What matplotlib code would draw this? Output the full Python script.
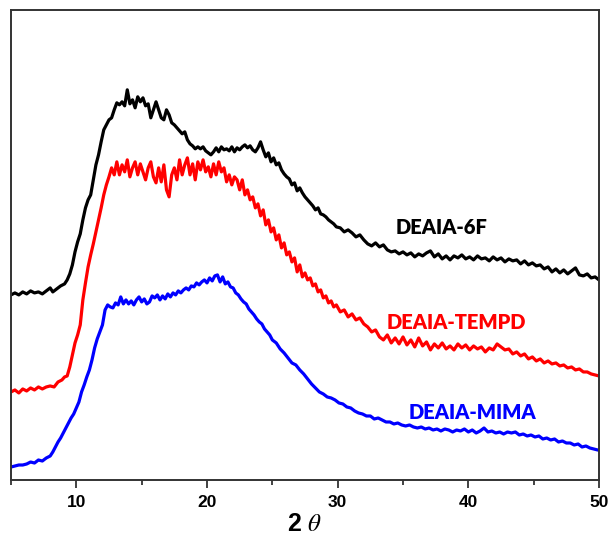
import matplotlib
matplotlib.use("Agg")
import matplotlib.pyplot as plt

# ---- data ----
x_6f = [5.0, 5.3, 5.6, 5.9, 6.2, 6.5, 6.8, 7.1, 7.4, 7.7, 8.0, 8.2, 8.5, 8.8, 9.1, 9.3, 9.5, 9.7, 9.9, 10.1,
        10.3, 10.5, 10.7, 10.9, 11.1, 11.3, 11.5, 11.7, 11.9, 12.1, 12.3, 12.5, 12.7, 12.9, 13.1, 13.3, 13.5,
        13.7, 13.9, 14.1, 14.3, 14.5, 14.7, 14.9, 15.1, 15.3, 15.5, 15.7, 15.9, 16.1, 16.3, 16.5, 16.7, 16.9,
        17.1, 17.3, 17.5, 17.7, 17.9, 18.1, 18.3, 18.5, 18.7, 18.9, 19.1, 19.3, 19.5, 19.7, 19.9, 20.1, 20.3,
        20.5, 20.7, 20.9, 21.1, 21.3, 21.5, 21.7, 21.9, 22.1, 22.3, 22.5, 22.7, 22.9, 23.1, 23.3, 23.5, 23.7,
        23.9, 24.1, 24.3, 24.5, 24.7, 24.9, 25.1, 25.3, 25.5, 25.7, 25.9, 26.1, 26.3, 26.5, 26.7, 26.9, 27.1,
        27.3, 27.5, 27.7, 27.9, 28.1, 28.3, 28.5, 28.7, 28.9, 29.1, 29.3, 29.5, 29.7, 29.9, 30.2, 30.5, 30.8,
        31.1, 31.4, 31.7, 32.0, 32.3, 32.6, 32.9, 33.2, 33.5, 33.8, 34.1, 34.4, 34.7, 35.0, 35.3, 35.6, 35.9,
        36.2, 36.5, 36.8, 37.1, 37.4, 37.7, 38.0, 38.3, 38.6, 38.9, 39.2, 39.5, 39.8, 40.1, 40.4, 40.7, 41.0,
        41.3, 41.6, 41.9, 42.2, 42.5, 42.8, 43.1, 43.4, 43.7, 44.0, 44.3, 44.6, 44.9, 45.2, 45.5, 45.8, 46.1,
        46.4, 46.7, 47.0, 47.3, 47.6, 47.9, 48.2, 48.5, 48.8, 49.1, 49.4, 49.7, 50.0]
y_6f = [185, 187, 185, 188, 186, 189, 187, 188, 186, 189, 192, 188, 191, 194, 196, 200, 206, 215, 228, 238,
        246, 260, 272, 280, 285, 300, 315, 325, 338, 350, 355, 360, 362, 370, 377, 375, 378,
        374, 390, 376, 380, 372, 383, 378, 382, 374, 376, 362, 370, 378, 370, 362, 360, 370,
        365, 357, 355, 352, 349, 346, 348, 340, 336, 334, 331, 333, 331, 333, 329, 327, 325,
        328, 332, 328, 333, 330, 331, 329, 333, 328, 332, 330, 333, 335, 332, 334, 330, 328,
        332, 338, 330, 323, 327, 318, 322, 315, 317, 310, 306, 303, 301, 295, 297, 289, 292,
        287, 283, 280, 277, 274, 270, 272, 266, 265, 263, 260, 258, 256, 253, 252, 248, 250,
        247, 243, 245, 240, 236, 234, 237, 233, 235, 230, 228, 229, 226, 228, 225, 227, 223,
        226, 224, 227, 229, 223, 226, 221, 224, 220, 224, 222, 225, 221, 223, 220, 224, 221,
        222, 219, 223, 220, 222, 218, 221, 219, 220, 216, 219, 215, 217, 214, 215, 211, 213,
        208, 211, 207, 210, 206, 209, 212, 205, 204, 206, 202, 203, 200]

x_tempd = [5.0, 5.3, 5.6, 5.9, 6.2, 6.5, 6.8, 7.1, 7.4, 7.7, 8.0, 8.3, 8.6, 8.9, 9.1, 9.3, 9.5, 9.7, 9.9, 10.1,
           10.3, 10.5, 10.7, 10.9, 11.1, 11.3, 11.5, 11.7, 11.9, 12.1, 12.3, 12.5, 12.7, 12.9, 13.1, 13.3,
           13.5, 13.7, 13.9, 14.1, 14.3, 14.5, 14.7, 14.9, 15.1, 15.3, 15.5, 15.7, 15.9, 16.1, 16.3, 16.5,
           16.7, 16.9, 17.1, 17.3, 17.5, 17.7, 17.9, 18.1, 18.3, 18.5, 18.7, 18.9, 19.1, 19.3, 19.5, 19.7,
           19.9, 20.1, 20.3, 20.5, 20.7, 20.9, 21.1, 21.3, 21.5, 21.7, 21.9, 22.1, 22.3, 22.5, 22.7, 22.9,
           23.1, 23.3, 23.5, 23.7, 23.9, 24.1, 24.3, 24.5, 24.7, 24.9, 25.1, 25.3, 25.5, 25.7, 25.9, 26.1,
           26.3, 26.5, 26.7, 26.9, 27.1, 27.3, 27.5, 27.7, 27.9, 28.1, 28.3, 28.5, 28.7, 28.9, 29.1, 29.3,
           29.5, 29.7, 29.9, 30.2, 30.5, 30.8, 31.1, 31.4, 31.7, 32.0, 32.3, 32.6, 32.9, 33.2, 33.5, 33.8,
           34.1, 34.4, 34.7, 35.0, 35.3, 35.6, 35.9, 36.2, 36.5, 36.8, 37.1, 37.4, 37.7, 38.0, 38.3, 38.6,
           38.9, 39.2, 39.5, 39.8, 40.1, 40.4, 40.7, 41.0, 41.3, 41.6, 41.9, 42.2, 42.5, 42.8, 43.1, 43.4,
           43.7, 44.0, 44.3, 44.6, 44.9, 45.2, 45.5, 45.8, 46.1, 46.4, 46.7, 47.0, 47.3, 47.6, 47.9, 48.2,
           48.5, 48.8, 49.1, 49.4, 49.7, 50.0]
y_tempd = [88, 90, 87, 91, 89, 92, 90, 93, 91, 93, 94, 93, 98, 100, 103, 104, 113, 125, 137, 145,
           155, 180, 197, 213, 225, 236, 248, 260, 272, 285, 295, 303, 312, 305, 318, 305,
           315, 308, 320, 303, 312, 318, 305, 316, 308, 300, 312, 318, 303, 297, 312, 298,
           315, 290, 283, 305, 312, 300, 320, 305, 315, 322, 305, 316, 300, 318, 310, 320,
           308, 313, 303, 316, 305, 318, 308, 312, 298, 305, 295, 303, 300, 290, 300, 285,
           290, 280, 283, 272, 276, 264, 270, 255, 260, 248, 252, 240, 245, 232, 237, 225,
           228, 218, 222, 208, 215, 203, 207, 200, 202, 194, 196, 188, 190, 182, 184, 177,
           179, 173, 175, 168, 170, 163, 166, 160, 162, 156, 153, 148, 150, 143, 140, 145,
           137, 142, 136, 143, 135, 140, 133, 142, 134, 138, 130, 136, 132, 137, 131, 134,
           130, 136, 132, 135, 130, 134, 131, 133, 128, 132, 130, 136, 133, 130, 131, 126,
           128, 124, 126, 121, 123, 119, 121, 117, 119, 116, 117, 114, 115, 112, 113, 110,
           111, 108, 108, 106, 105, 104]

x_mima = [5.0, 5.3, 5.6, 5.9, 6.2, 6.5, 6.8, 7.1, 7.4, 7.7, 8.0, 8.2, 8.4, 8.6, 8.8, 9.0, 9.2, 9.4, 9.6, 9.8,
          10.0, 10.2, 10.4, 10.6, 10.8, 11.0, 11.2, 11.4, 11.6, 11.8, 12.0, 12.2, 12.4, 12.6, 12.8, 13.0,
          13.2, 13.4, 13.6, 13.8, 14.0, 14.2, 14.4, 14.6, 14.8, 15.0, 15.2, 15.4, 15.6, 15.8, 16.0, 16.2,
          16.4, 16.6, 16.8, 17.0, 17.2, 17.4, 17.6, 17.8, 18.0, 18.2, 18.4, 18.6, 18.8, 19.0, 19.2, 19.4,
          19.6, 19.8, 20.0, 20.2, 20.4, 20.6, 20.8, 21.0, 21.2, 21.4, 21.6, 21.8, 22.0, 22.2, 22.4, 22.6,
          22.8, 23.0, 23.2, 23.4, 23.6, 23.8, 24.0, 24.2, 24.4, 24.6, 24.8, 25.0, 25.3, 25.6, 25.9, 26.2,
          26.5, 26.8, 27.1, 27.4, 27.7, 28.0, 28.3, 28.6, 28.9, 29.2, 29.5, 29.8, 30.1, 30.4, 30.7, 31.0,
          31.3, 31.6, 31.9, 32.2, 32.5, 32.8, 33.1, 33.4, 33.7, 34.0, 34.3, 34.6, 34.9, 35.2, 35.5, 35.8,
          36.1, 36.4, 36.7, 37.0, 37.3, 37.6, 37.9, 38.2, 38.5, 38.8, 39.1, 39.4, 39.7, 40.0, 40.3, 40.6,
          40.9, 41.2, 41.5, 41.8, 42.1, 42.4, 42.7, 43.0, 43.3, 43.6, 43.9, 44.2, 44.5, 44.8, 45.1, 45.4,
          45.7, 46.0, 46.3, 46.6, 46.9, 47.2, 47.5, 47.8, 48.1, 48.4, 48.7, 49.0, 49.3, 49.6, 49.9, 50.0]
y_mima = [13, 14, 15, 15, 16, 18, 17, 20, 19, 22, 24, 28, 33, 38, 42, 47, 52, 57, 62, 66,
          72, 78, 88, 95, 103, 110, 120, 132, 141, 148, 155, 170, 175, 173, 172, 177,
          175, 183, 176, 180, 176, 179, 175, 180, 183, 178, 181, 176, 178, 184, 182, 185,
          180, 184, 181, 186, 183, 187, 185, 189, 187, 190, 192, 190, 194, 193, 197, 195,
          198, 200, 197, 202, 199, 204, 205, 198, 203, 196, 198, 193, 192, 187, 185, 181,
          178, 176, 171, 168, 165, 161, 158, 156, 151, 148, 145, 140, 137, 131, 127, 122,
          117, 115, 110, 106, 101, 96, 92, 88, 86, 83, 82, 80, 77, 76, 73, 72,
          69, 67, 66, 64, 64, 61, 62, 60, 58, 58, 56, 57, 55, 54, 55, 53,
          52, 53, 51, 52, 50, 51, 49, 51, 50, 48, 50, 49, 51, 48, 50, 47,
          49, 52, 48, 49, 47, 48, 46, 48, 47, 48, 45, 46, 44, 45, 43, 44,
          41, 42, 40, 41, 38, 39, 37, 37, 35, 36, 33, 34, 32, 31, 30, 30]

names = ["DEAIA-6F", "DEAIA-TEMPD", "DEAIA-MIMA"]
colors = ["#000000", "#ff0000", "#0000ff"]
label_pos = [(37.98, 252), (39.05, 157), (40.31, 67)]
xticks = [10, 20, 30, 40, 50]

plt.rcParams['mathtext.fontset'] = 'stix'

fig = plt.figure(figsize=(6.1, 5.43), dpi=100)
ax = fig.add_axes([0.018, 0.116, 0.964, 0.866])

series = [(x_6f, y_6f), (x_tempd, y_tempd), (x_mima, y_mima)]
for (xs, ys), c in zip(series, colors):
    ax.plot(xs, ys, color=c, lw=2.3, solid_joinstyle='round')

for name, c, (tx, ty) in zip(names, colors, label_pos):
    ax.text(tx, ty, name, color=c, fontsize=14.5, fontweight='heavy', family='Lato',
            ha='center', va='center')

ax.set_xlim(5, 50)
ax.set_ylim(0, 470)
ax.set_yticks([])
ax.set_xticks(xticks)
ax.set_xticks([5, 15, 25, 35, 45], minor=True)
ax.set_xticklabels([str(t) for t in xticks], fontsize=12.5, fontweight='bold',
                   family='Liberation Sans')
ax.tick_params(axis='x', which='major', direction='out', length=6, width=1.3,
               color='#333333', pad=5)
ax.tick_params(axis='x', which='minor', direction='out', length=3.5, width=1.3,
               color='#333333')
for sp in ax.spines.values():
    sp.set_color('#333333')
    sp.set_linewidth(1.4)

ax.set_xlabel(r"2 $\theta$", fontsize=18, fontweight='bold', family='Liberation Sans',
              labelpad=1)

fig.savefig("out.png", dpi=100)
